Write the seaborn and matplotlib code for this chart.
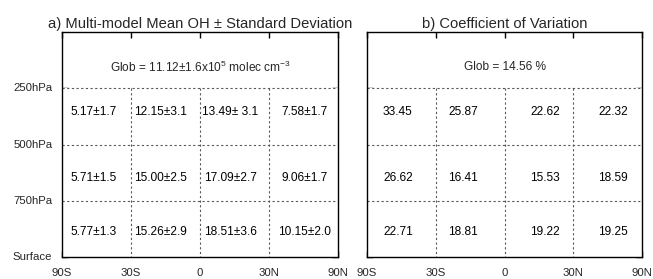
import numpy as np
import pandas as pd
import matplotlib
matplotlib.use("Agg")
import matplotlib.pyplot as plt
import seaborn as sns
from matplotlib.colors import ListedColormap

# ---------------- data ----------------
lat_labels = ["90S", "30S", "0", "30N", "90N"]
lev_labels = ["250hPa", "500hPa", "750hPa", "Surface"]
bands = ["90S-30S", "30S-0", "0-30N", "30N-90N"]
layers = ["250-500hPa", "500-750hPa", "750hPa-Surface"]

oh_mean = [[5.17, 12.15, 13.49, 7.58],
           [5.71, 15.00, 17.09, 9.06],
           [5.77, 15.26, 18.51, 10.15]]
oh_std = [[1.7, 3.1, 3.1, 1.7],
          [1.5, 2.5, 2.7, 1.7],
          [1.3, 2.9, 3.6, 2.0]]
oh_labels = [["5.17±1.7", "12.15±3.1", "13.49± 3.1", "7.58±1.7"],
             ["5.71±1.5", "15.00±2.5", "17.09±2.7", "9.06±1.7"],
             ["5.77±1.3", "15.26±2.9", "18.51±3.6", "10.15±2.0"]]
cv = [[33.45, 25.87, 22.62, 22.32],
      [26.62, 16.41, 15.53, 18.59],
      [22.71, 18.81, 19.22, 19.25]]
glob_a = r"Glob = 11.12±1.6x10$^{5}$ molec cm$^{-3}$"
glob_b = "Glob = 14.56 %"
title_a = "a) Multi-model Mean OH ± Standard Deviation"
title_b = "b) Coefficient of Variation"

# ---------------- style ----------------
sns.set_style("ticks")
plt.rcParams["font.family"] = ["Liberation Sans", "DejaVu Sans"]
plt.rcParams["mathtext.fontset"] = "custom"
plt.rcParams["mathtext.rm"] = "Liberation Sans"
plt.rcParams["mathtext.it"] = "Liberation Sans"
plt.rcParams["mathtext.default"] = "regular"

fig = plt.figure(figsize=(6.53, 2.79), dpi=100)
W, H = 653, 279
ax_a = fig.add_axes([62 / W, (H - 257) / H, 276 / W, 225 / H])
ax_b = fig.add_axes([367 / W, (H - 257) / H, 275 / W, 225 / H])

white = ListedColormap(["white"])

def panel(ax, values, labels, xpos, ypos, glob, title, left_labels):
    df = pd.DataFrame(values, index=layers, columns=bands)
    sns.heatmap(df, ax=ax, cmap=white, cbar=False, annot=np.array(labels), fmt="",
                annot_kws={"fontsize": 8.6, "color": "black"}, linewidths=0)
    # reposition annotations slightly like the reference
    k = 0
    for i in range(3):
        for j in range(4):
            ax.texts[k].set_position((xpos[j], i + ypos[i]))
            k += 1
    ax.set_xlim(0, 4)
    ax.set_ylim(3, -1)
    for sp in ax.spines.values():
        sp.set_visible(True)
        sp.set_color("black")
        sp.set_linewidth(1.0)
    dot = dict(color="0.35", linewidth=0.8, linestyle=(0, (2, 2.2)))
    for y in [0, 1, 2]:
        ax.plot([0, 4], [y, y], **dot)
    for x in [1, 2, 3]:
        ax.plot([x, x], [0, 3], **dot)
    ax.set_xticks(range(5))
    ax.set_xticklabels(lat_labels, rotation=0, fontsize=8.2)
    ax.set_yticks(range(4))
    if left_labels:
        ax.set_yticklabels(lev_labels, rotation=0, fontsize=8.2)
    else:
        ax.set_yticklabels([])
    ax.set_xlabel("")
    ax.set_ylabel("")
    ax.tick_params(axis="both", direction="in", length=4, width=1, color="black",
                   top=True, right=True, left=True, bottom=True)
    ax.tick_params(axis="x", pad=8)
    ax.tick_params(axis="y", pad=7)
    ax.text(2, -0.37, glob, ha="center", va="center", fontsize=8.6)
    ax.set_title(title, fontsize=10.6, pad=3)

panel(ax_a, oh_mean, oh_labels, [0.46, 1.43, 2.44, 3.52], [0.43, 0.60, 0.56],
      glob_a, title_a, True)
panel(ax_b, cv, [[f"{v:.2f}" for v in row] for row in cv],
      [0.45, 1.40, 2.59, 3.58], [0.43, 0.60, 0.56], glob_b, title_b, False)

fig.savefig("out.png", dpi=100)
